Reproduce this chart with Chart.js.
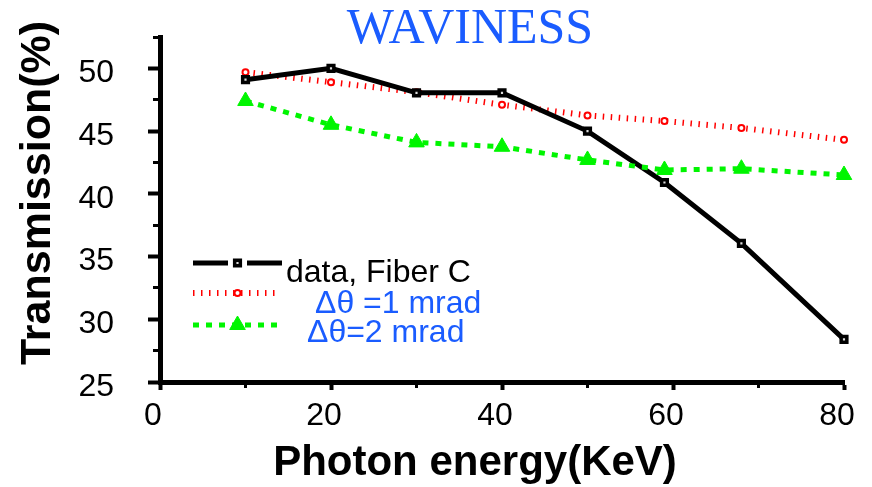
<!DOCTYPE html>
<html>
<head>
<meta charset="utf-8">
<script src="https://cdn.jsdelivr.net/npm/chart.js@4.4.1/dist/chart.umd.min.js"></script>
<style>
  html, body { margin: 0; padding: 0; background: #fff; }
  #wrap { width: 872px; height: 487px; }
</style>
</head>
<body>
<div id="wrap"><canvas id="wavinessChart" width="872" height="487"></canvas></div>
<script>
// values
const energies = [10, 20, 30, 40, 50, 59, 68, 80];
const fiberC = [49.1, 50.0, 48.05, 48.05, 45.0, 40.9, 36.05, 28.4];
const mrad1 = [49.7, 48.9, 48.1, 47.1, 46.25, 45.8, 45.25, 44.3];
const mrad2 = [47.4, 45.5, 44.1, 43.75, 42.7, 41.9, 42.0, 41.5];

const xTickLabels = [0, 20, 40, 60, 80];
const yTickLabels = [25, 30, 35, 40, 45, 50];
const seriesNames = ['data, Fiber C', 'Δθ =1 mrad', 'Δθ=2 mrad'];

const SANS = '"Liberation Sans", Arial, sans-serif';
const SERIF = '"Liberation Serif", "Times New Roman", serif';
const BLUE = '#1a5cff';
const RED = 'rgb(255,0,0)';
const GREEN = 'rgb(0,245,0)';

const toPoints = function (values) {
    return values.map(function (v, i) {
        return { x: energies[i], y: v };
    });
}

const decorPlugin = {
    id: 'decor',
    afterDraw: function (chart) {
        const ctx = chart.ctx;
        ctx.save();

        // title
        ctx.fillStyle = BLUE;
        ctx.font = '50px ' + SERIF;
        ctx.textAlign = 'center';
        ctx.textBaseline = 'alphabetic';
        ctx.fillText('WAVINESS', 470, 43);

        // axis titles
        ctx.fillStyle = '#000';
        ctx.font = 'bold 42px ' + SANS;
        ctx.fillText('Photon energy(KeV)', 475, 475);

        ctx.save();
        ctx.translate(50, 193);
        ctx.rotate(-Math.PI / 2);
        ctx.font = 'bold 43px ' + SANS;
        ctx.fillText('Transmission(%)', 0, 0);
        ctx.restore();

        // legend
        const rows = [
            { y: 263, textX: 286, baseline: 282, color: '#000', gap: true },
            { y: 293, textX: 315, baseline: 313, color: BLUE, gap: false },
            { y: 325, textX: 307, baseline: 342, color: BLUE, gap: false }
        ];
        chart.data.datasets.forEach(function (ds, i) {
            const row = rows[i];
            ctx.save();
            ctx.strokeStyle = ds.borderColor;
            ctx.lineWidth = ds.borderWidth;
            ctx.setLineDash(ds.borderDash || []);
            ctx.beginPath();
            if (row.gap) {
                ctx.moveTo(193, row.y); ctx.lineTo(228, row.y);
                ctx.moveTo(247, row.y); ctx.lineTo(282, row.y);
            } else {
                ctx.moveTo(193, row.y); ctx.lineTo(278, row.y);
            }
            ctx.stroke();
            ctx.setLineDash([]);
            ctx.fillStyle = ds.pointBackgroundColor;
            ctx.strokeStyle = ds.pointBorderColor;
            ctx.lineWidth = ds.pointBorderWidth;
            Chart.helpers.drawPoint(ctx, {
                pointStyle: ds.pointStyle,
                radius: ds.pointRadius,
                rotation: 0,
                borderWidth: ds.pointBorderWidth
            }, 237.5, row.y);
            ctx.restore();

            ctx.fillStyle = row.color;
            ctx.font = '32px ' + SANS;
            ctx.textAlign = 'left';
            ctx.fillText(ds.label, row.textX, row.baseline);
        });

        ctx.restore();
    }
}

const chart = new Chart(document.getElementById('wavinessChart'), {
    type: 'line',
    data: {
        datasets: [{
            label: seriesNames[0],
            data: toPoints(fiberC),
            borderColor: '#000',
            borderWidth: 5,
            pointStyle: 'rect',
            pointRadius: 4,
            pointBackgroundColor: '#ddd',
            pointBorderColor: '#000',
            pointBorderWidth: 3.5,
            tension: 0,
            clip: false,
            order: 1
        }, {
            label: seriesNames[1],
            data: toPoints(mrad1),
            borderColor: RED,
            borderWidth: 6,
            borderDash: [1.5, 6.5],
            pointStyle: 'circle',
            pointRadius: 3,
            pointBackgroundColor: '#fff',
            pointBorderColor: RED,
            pointBorderWidth: 2,
            tension: 0,
            clip: false,
            order: 2
        }, {
            label: seriesNames[2],
            data: toPoints(mrad2),
            borderColor: GREEN,
            borderWidth: 5,
            borderDash: [6, 7],
            pointStyle: 'triangle',
            pointRadius: 9,
            pointBackgroundColor: GREEN,
            pointBorderColor: GREEN,
            pointBorderWidth: 1,
            tension: 0,
            clip: false,
            order: 0
        }]
    },
    options: {
        responsive: false,
        animation: false,
        layout: { padding: { top: 37, right: 28, left: 0, bottom: 0 } },
        plugins: {
            legend: { display: false },
            tooltip: { enabled: false },
            title: { display: false }
        },
        scales: {
            x: {
                type: 'linear',
                min: 0,
                max: 80,
                border: { color: '#000', width: 5 },
                grid: {
                    drawOnChartArea: false,
                    tickLength: 8,
                    tickColor: '#000',
                    tickWidth: function (c) { return c.tick && c.tick.value % 20 === 0 ? 4 : 3; },
                    tickBorderDash: function (c) { return c.tick && c.tick.value % 20 === 0 ? [] : [3, 20]; }
                },
                ticks: {
                    stepSize: 10,
                    autoSkip: false,
                    maxRotation: 0,
                    padding: 7,
                    labelOffset: -7,
                    color: '#000',
                    font: { family: SANS, size: 32 },
                    callback: function (v) { return xTickLabels.includes(v) ? String(v) : ''; }
                },
                afterFit: function (s) {
                    s.height = 105;
                    s.paddingLeft = 0;
                    s.paddingRight = 0;
                }
            },
            y: {
                type: 'linear',
                min: 25,
                max: 52.5,
                border: { color: '#000', width: 5 },
                grid: {
                    drawOnChartArea: false,
                    tickLength: 12,
                    tickColor: '#000',
                    tickWidth: function (c) { return c.tick && c.tick.value % 5 === 0 ? 4 : 3; },
                    tickBorderDash: function (c) { return c.tick && c.tick.value % 5 === 0 ? [] : [0, 5, 5]; }
                },
                ticks: {
                    stepSize: 2.5,
                    autoSkip: false,
                    padding: 34,
                    labelOffset: 5,
                    color: '#000',
                    font: { family: SANS, size: 32 },
                    callback: function (v) { return yTickLabels.includes(v) ? String(v) : ''; }
                },
                afterFit: function (s) {
                    s.width = 160;
                    s.paddingTop = 0;
                    s.paddingBottom = 0;
                }
            }
        }
    },
    plugins: [decorPlugin]
});
</script>
</body>
</html>
